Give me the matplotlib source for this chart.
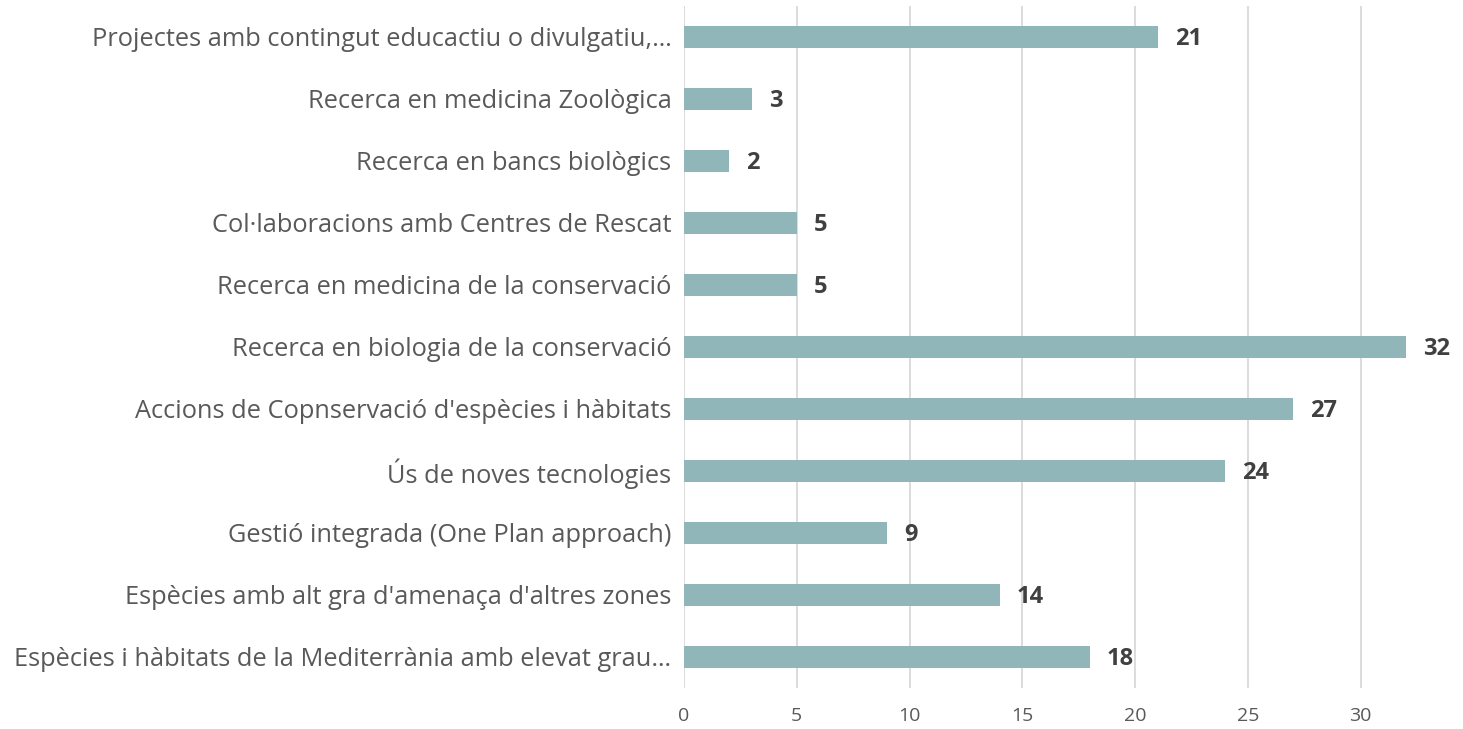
import matplotlib
matplotlib.use("Agg")
import matplotlib.pyplot as plt

categories = [
    "Projectes amb contingut educactiu o divulgatiu,…",
    "Recerca en medicina Zoològica",
    "Recerca en bancs biològics",
    "Col·laboracions amb Centres de Rescat",
    "Recerca en medicina de la conservació",
    "Recerca en biologia de la conservació",
    "Accions de Copnservació d'espècies i hàbitats",
    "Ús de noves tecnologies",
    "Gestió integrada (One Plan approach)",
    "Espècies amb alt gra d'amenaça d'altres zones",
    "Espècies i hàbitats de la Mediterrània amb elevat grau…",
]
values = [21, 3, 2, 5, 5, 32, 27, 24, 9, 14, 18]
xticks = [0, 5, 10, 15, 20, 25, 30]

plt.rcParams['font.family'] = ['Open Sans', 'DejaVu Sans']

W, H = 1463, 729
px_per_unit = 22.55
fig = plt.figure(figsize=(W / 100, H / 100), dpi=100)
ax = fig.add_axes([684 / W, 1 - 688 / H, (W - 684) / W, (688 - 6) / H])

bar_color = "#90B6BA"
text_color = "#404040"
ypos = list(range(len(categories)))
ax.barh(ypos, values, height=0.36, color=bar_color, zorder=3)
ax.set_ylim(len(categories) - 0.5, -0.5)
ax.set_xlim(0, (W - 684) / px_per_unit)
ax.set_xticks(xticks)
ax.set_xticklabels([str(t) for t in xticks], fontsize=14, color="#595959")
ax.set_yticks(ypos)
ax.set_yticklabels(categories, fontsize=18.3, color="#595959")
ax.tick_params(axis='both', length=0)
ax.tick_params(axis='y', pad=9)
ax.tick_params(axis='x', pad=14)
for s in ax.spines.values():
    s.set_visible(False)
ax.grid(axis='x', color="#D9D9D9", linewidth=1.3, zorder=0)
ax.set_axisbelow(True)

for y, v in zip(ypos, values):
    ax.annotate(str(v), (v, y), xytext=(17, -2), textcoords="offset pixels",
                va="center", ha="left", fontsize=17, fontweight="bold", color=text_color)

fig.savefig("out.png", dpi=100)
